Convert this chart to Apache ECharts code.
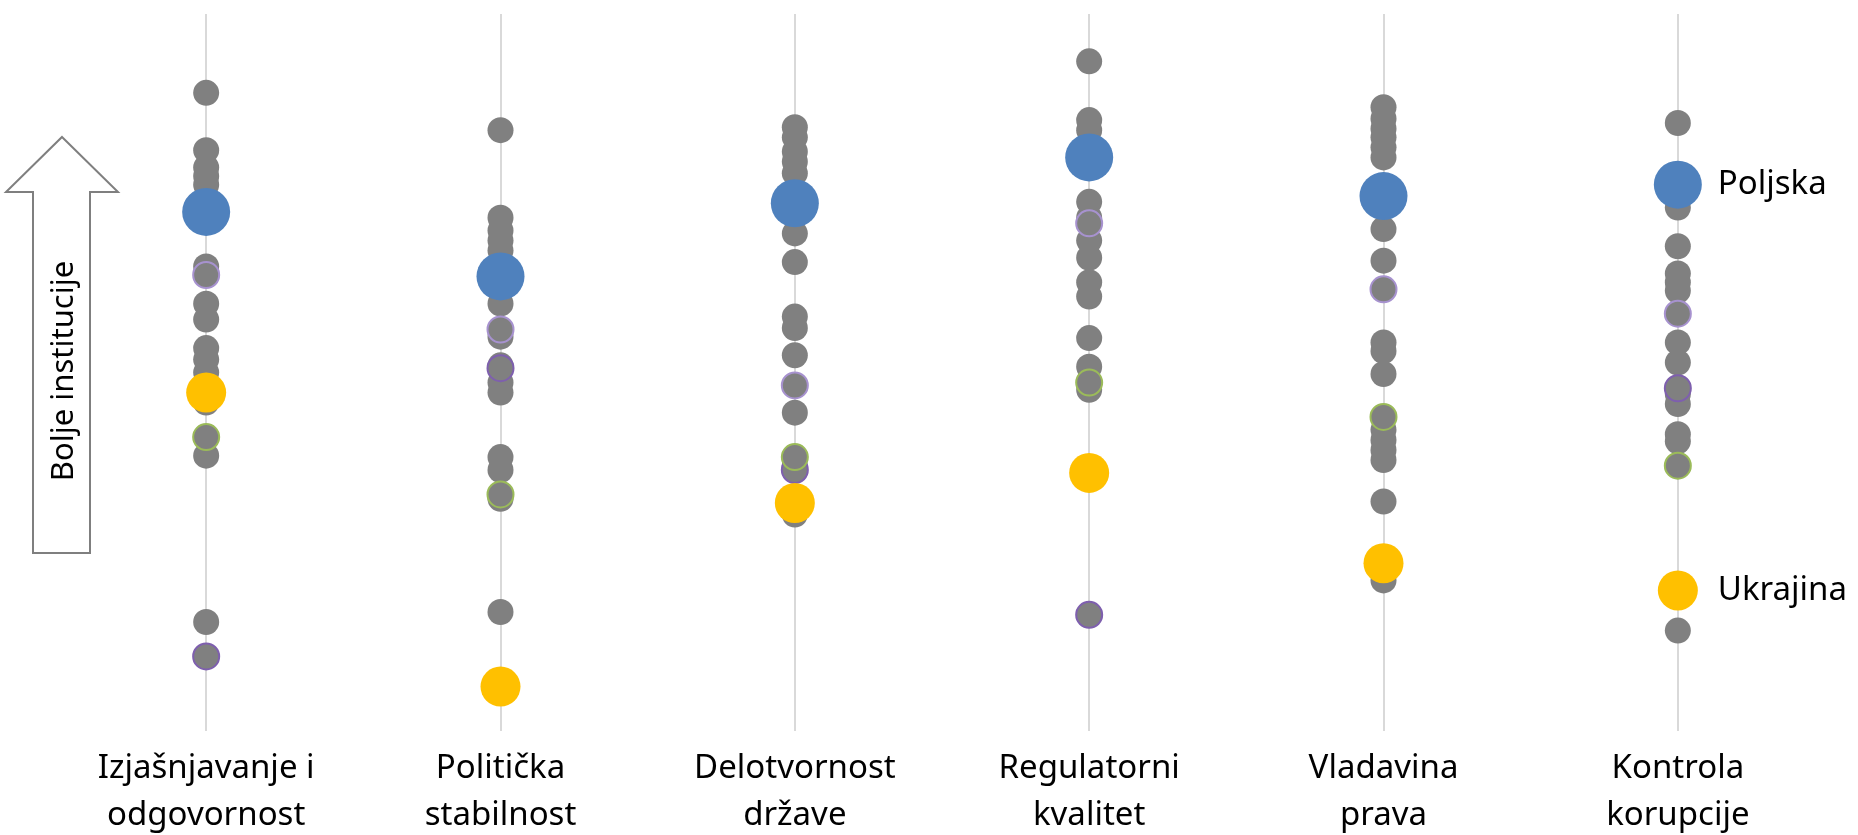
<!DOCTYPE html>
<html>
<head>
<meta charset="utf-8">
<title>Kvalitet institucija</title>
<script src="https://cdn.jsdelivr.net/npm/echarts@6/dist/echarts.min.js"></script>
<style>
  html, body { margin: 0; padding: 0; background: #fff; }
  #chart { width: 1858px; height: 835px; }
</style>
</head>
<body>
<div id="chart"></div>
<script>
// dimenzije upravljanja (WGI), procene od -2.5 do 2.5
const categories = [
  'Izjašnjavanje i\nodgovornost',
  'Politička\nstabilnost',
  'Delotvornost\ndržave',
  'Regulatorni\nkvalitet',
  'Vladavina\nprava',
  'Kontrola\nkorupcije'
]

const poljska = [1.12, 0.67, 1.18, 1.50, 1.23, 1.31]
const ukrajina = [-0.14, -2.19, -0.91, -0.70, -1.33, -1.52]

// ostale zemlje (sive tacke), po dimenziji
const ostaleIzjasnjavanje = [1.95, 1.55, 1.43, 1.37, 1.31, 0.74, 0.48, 0.37, 0.17, 0.09, 0.00, -0.21, -0.58, -1.74]
const ostalePoliticka = [1.69, 1.08, 0.99, 0.92, 0.85, 0.48, 0.25, 0.05, -0.07, -0.14, -0.59, -0.68, -0.88, -1.67]
const ostaleDelotvornost = [1.71, 1.64, 1.54, 1.47, 1.39, 0.97, 0.77, 0.39, 0.31, 0.12, -0.28, -0.65, -0.99]
const ostaleRegulatorni = [2.17, 1.76, 1.69, 1.19, 1.08, 0.92, 0.80, 0.63, 0.53, 0.24, 0.04, -0.12]
const ostaleVladavina = [1.85, 1.77, 1.70, 1.64, 1.57, 1.50, 1.00, 0.78, 0.21, 0.15, -0.01, -0.40, -0.47, -0.54, -0.61, -0.90, -1.45]
const ostaleKontrola = [1.74, 1.15, 0.88, 0.69, 0.63, 0.57, 0.21, 0.07, -0.15, -0.22, -0.43, -0.48, -1.80]

// zemlje sa obojenim obodom
const zemljaA = [0.68, 0.30, -0.09, 1.04, 0.58, 0.41]
const zemljaB = [-1.98, 0.03, -0.68, -1.69, '-', -0.11]
const zemljaC = [-0.45, -0.85, -0.59, -0.07, -0.31, -0.65]

const ostale = [
  ostaleIzjasnjavanje, ostalePoliticka, ostaleDelotvornost,
  ostaleRegulatorni, ostaleVladavina, ostaleKontrola
]

function pairs(arr) {
  return arr.map((v, i) => [i, v])
}

const grayData = []
ostale.forEach((list, i) => {
  list.forEach(v => grayData.push([i, v]))
})

const chart = echarts.init(document.getElementById('chart'))

const labelFont = '"Noto Sans", "Open Sans", sans-serif'

function endLabel(text, dist) {
  return {
    show: true,
    position: 'right',
    distance: dist,
    formatter: text,
    color: '#000',
    fontSize: 33,
    fontFamily: labelFont
  }
}

chart.setOption({
  animation: false,
  textStyle: { fontFamily: labelFont },
  grid: {
    left: 59,
    right: 33,
    top: 14,
    bottom: 104,
    containLabel: false,
    outerBoundsMode: 'none'
  },
  xAxis: {
    type: 'category',
    data: categories,
    boundaryGap: true,
    axisLine: { show: false },
    axisTick: { show: false, alignWithLabel: true },
    axisLabel: {
      interval: 0,
      margin: 14,
      color: '#000',
      fontSize: 33,
      lineHeight: 47,
      fontFamily: labelFont
    },
    splitLine: {
      show: true,
      alignWithLabel: true,
      interval: 0,
      lineStyle: { color: '#D9D9D9', width: 2 }
    }
  },
  yAxis: {
    type: 'value',
    min: -2.5,
    max: 2.5,
    show: false,
    splitLine: { show: false }
  },
  graphic: [
    {
      type: 'polygon',
      silent: true,
      shape: {
        points: [[62, 137], [118, 192], [90, 192], [90, 553], [33, 553], [33, 192], [6, 192]]
      },
      style: { fill: '#fff', stroke: '#7F7F7F', lineWidth: 2 }
    },
    {
      type: 'text',
      silent: true,
      x: 64,
      y: 371,
      rotation: Math.PI / 2,
      style: {
        text: 'Bolje institucije',
        fill: '#000',
        font: '31px ' + labelFont,
        align: 'center',
        verticalAlign: 'middle'
      }
    }
  ],
  series: [
    {
      name: 'Ostale',
      type: 'scatter',
      symbolSize: 26,
      itemStyle: { color: '#808080', opacity: 1 },
      data: grayData,
      silent: true
    },
    {
      name: 'A',
      type: 'scatter',
      symbolSize: 26,
      itemStyle: { color: '#808080', borderColor: '#A792CF', borderWidth: 2, opacity: 1 },
      data: pairs(zemljaA),
      silent: true
    },
    {
      name: 'B',
      type: 'scatter',
      symbolSize: 26,
      itemStyle: { color: '#808080', borderColor: '#7E5FAE', borderWidth: 2, opacity: 1 },
      data: pairs(zemljaB),
      silent: true
    },
    {
      name: 'C',
      type: 'scatter',
      symbolSize: 26,
      itemStyle: { color: '#808080', borderColor: '#9BBB59', borderWidth: 2, opacity: 1 },
      data: pairs(zemljaC),
      silent: true
    },
    {
      name: 'Ukrajina',
      type: 'scatter',
      symbolSize: 40,
      itemStyle: { color: '#FFC000', opacity: 1 },
      data: pairs(ukrajina).map((d, i) => i === ukrajina.length - 1
        ? { value: d, label: endLabel('Ukrajina', 20) }
        : d),
      silent: true
    },
    {
      name: 'Poljska',
      type: 'scatter',
      symbolSize: 48,
      itemStyle: { color: '#4F81BD', opacity: 1 },
      data: pairs(poljska).map((d, i) => i === poljska.length - 1
        ? { value: d, label: endLabel('Poljska', 16) }
        : d),
      silent: true
    }
  ]
})
</script>
</body>
</html>
